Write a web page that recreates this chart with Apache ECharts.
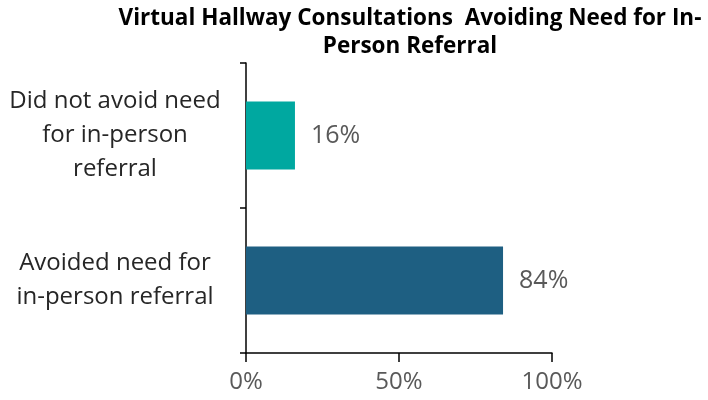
<!DOCTYPE html>
<html>
<head>
<meta charset="utf-8">
<script src="https://cdn.jsdelivr.net/npm/echarts@6/dist/echarts.min.js"></script>
<style>
  html, body { margin: 0; padding: 0; background: #fff; }
  #chart { width: 708px; height: 400px; }
</style>
</head>
<body>
<div id="chart"></div>
<script>
// data
const categories = ['Avoided need for\nin-person referral', 'Did not avoid need\nfor in-person\nreferral']
const values = [84, 16]
const barColors = ['#1E5F82', '#00A8A0']
const xTicks = [0, 50, 100]

const chart = echarts.init(document.getElementById('chart'), null, { renderer: 'canvas' })

chart.setOption({
  animation: false,
  textStyle: { fontFamily: 'Open Sans' },
  title: {
    text: 'Virtual Hallway Consultations  Avoiding Need for In-\nPerson Referral',
    left: 405,
    top: 0,
    textAlign: 'center',
    textStyle: {
      fontFamily: 'Open Sans',
      fontWeight: 'bold',
      fontSize: 22.5,
      lineHeight: 28,
      color: '#000',
    },
  },
  grid: {
    left: 246,
    right: 156,
    top: 63,
    bottom: 47,
  },
  xAxis: {
    type: 'value',
    min: xTicks[0],
    max: xTicks[xTicks.length - 1],
    interval: 50,
    axisLine: { show: true, lineStyle: { color: '#000', width: 1.5 } },
    axisTick: { show: true, length: 9, lineStyle: { color: '#000', width: 1.5 } },
    splitLine: { show: false },
    axisLabel: {
      formatter: '{value}%',
      fontFamily: 'Open Sans',
      fontSize: 24,
      color: '#595959',
      margin: 17,
    },
  },
  yAxis: {
    type: 'category',
    data: categories,
    axisLine: { show: true, lineStyle: { color: '#000', width: 1.5 } },
    axisTick: { show: true, length: 6, lineStyle: { color: '#000', width: 1.5 } },
    axisLabel: {
      align: 'center',
      margin: 131,
      fontFamily: 'Open Sans',
      fontSize: 24,
      lineHeight: 34,
      color: '#262626',
    },
  },
  series: [
    {
      type: 'bar',
      data: values.map((v, i) => ({ value: v, itemStyle: { color: barColors[i] } })),
      barCategoryGap: '53%',
      label: {
        show: true,
        position: 'right',
        distance: 16,
        formatter: '{c}%',
        fontFamily: 'Open Sans',
        fontSize: 25,
        color: '#595959',
      },
    },
  ],
})
</script>
</body>
</html>
